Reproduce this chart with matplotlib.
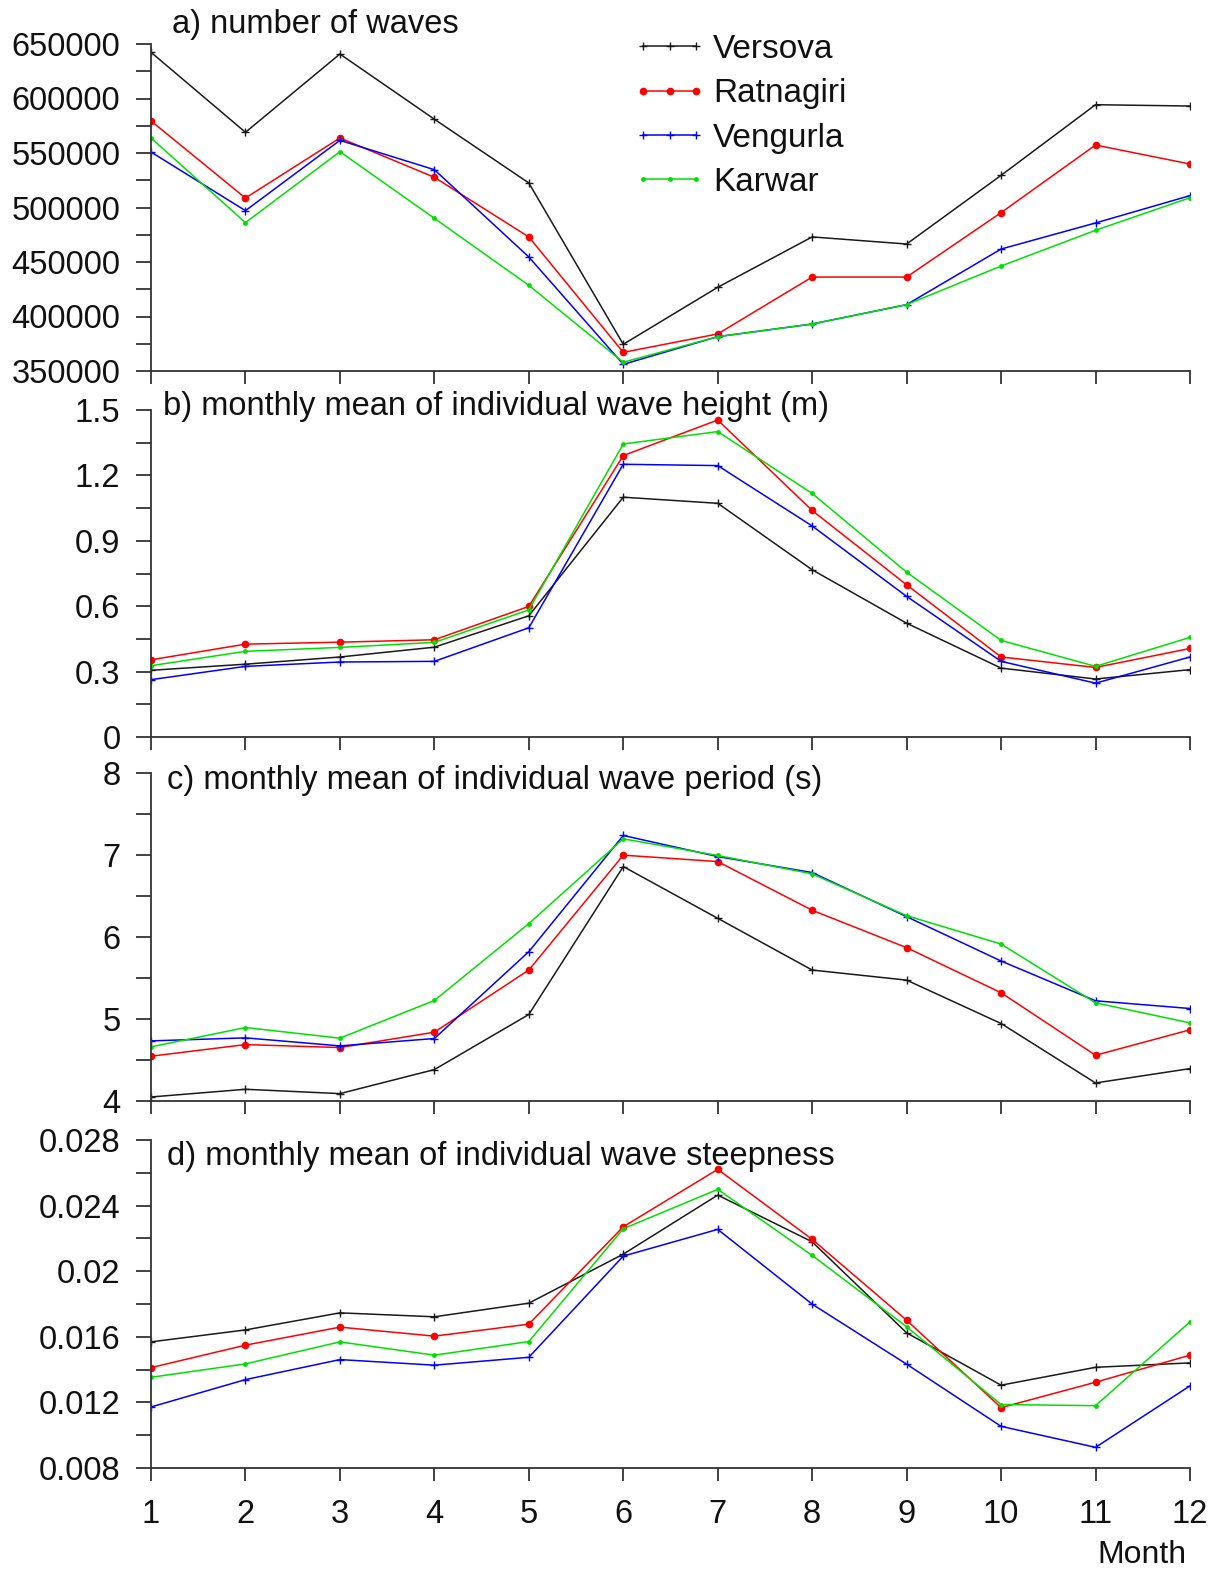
import matplotlib
matplotlib.use("Agg")
import matplotlib.pyplot as plt
from matplotlib.ticker import MultipleLocator

plt.rcParams['font.family'] = ['Liberation Sans', 'DejaVu Sans']

months = list(range(1, 13))
stations = ["Versova", "Ratnagiri", "Vengurla", "Karwar"]

# a) number of waves
waves_versova = [642400, 569000, 640800, 581000, 522500, 374500, 426800, 473000, 466500, 529500, 594300, 593100]
waves_ratnagiri = [579400, 508700, 563800, 527700, 473000, 367100, 384000, 436200, 436200, 495300, 557300, 539900]
waves_vengurla = [550900, 497100, 561600, 534700, 454600, 356100, 381500, 393100, 410900, 461900, 485800, 510900]
waves_karwar = [563800, 486100, 551200, 490100, 428600, 358000, 381500, 393100, 410900, 446300, 479100, 509000]

# b) monthly mean of individual wave height (m)
height_versova = [0.306, 0.334, 0.367, 0.412, 0.556, 1.100, 1.072, 0.767, 0.522, 0.316, 0.266, 0.309]
height_ratnagiri = [0.354, 0.426, 0.435, 0.446, 0.599, 1.291, 1.454, 1.039, 0.698, 0.367, 0.319, 0.406]
height_vengurla = [0.263, 0.324, 0.344, 0.347, 0.501, 1.251, 1.245, 0.968, 0.645, 0.347, 0.247, 0.367]
height_karwar = [0.327, 0.393, 0.411, 0.434, 0.583, 1.344, 1.401, 1.117, 0.756, 0.443, 0.324, 0.457]

# c) monthly mean of individual wave period (s)
period_versova = [4.049, 4.143, 4.090, 4.383, 5.055, 6.859, 6.228, 5.597, 5.474, 4.945, 4.220, 4.395]
period_ratnagiri = [4.546, 4.688, 4.652, 4.839, 5.597, 6.998, 6.920, 6.326, 5.870, 5.320, 4.558, 4.868]
period_vengurla = [4.733, 4.770, 4.672, 4.762, 5.821, 7.238, 6.981, 6.786, 6.248, 5.707, 5.222, 5.128]
period_karwar = [4.660, 4.896, 4.766, 5.226, 6.163, 7.197, 6.994, 6.770, 6.260, 5.914, 5.197, 4.953]

# d) monthly mean of individual wave steepness
steep_versova = [0.01569, 0.01642, 0.01746, 0.01722, 0.01805, 0.02104, 0.02464, 0.02179, 0.01624, 0.01305, 0.01414, 0.01441]
steep_ratnagiri = [0.01412, 0.01549, 0.01659, 0.01604, 0.01677, 0.02271, 0.02621, 0.02194, 0.01701, 0.01168, 0.01323, 0.01488]
steep_vengurla = [0.01172, 0.01339, 0.01461, 0.01427, 0.01475, 0.02092, 0.02255, 0.01799, 0.01433, 0.01054, 0.00926, 0.01301]
steep_karwar = [0.01353, 0.01435, 0.01569, 0.01488, 0.01571, 0.02259, 0.02499, 0.02096, 0.01661, 0.01187, 0.01180, 0.01691]

panel_titles = ["a) number of waves",
                "b) monthly mean of individual wave height (m)",
                "c) monthly mean of individual wave period (s)",
                "d) monthly mean of individual wave steepness"]
ylims = [(350000, 650000), (0, 1.5), (4, 8), (0.008, 0.028)]
ymajor = [50000, 0.3, 1, 0.004]
yticklabels = [["350000", "400000", "450000", "500000", "550000", "600000", "650000"],
               ["0", "0.3", "0.6", "0.9", "1.2", "1.5"],
               ["4", "5", "6", "7", "8"],
               ["0.008", "0.012", "0.016", "0.02", "0.024", "0.028"]]
data = [
    [waves_versova, waves_ratnagiri, waves_vengurla, waves_karwar],
    [height_versova, height_ratnagiri, height_vengurla, height_karwar],
    [period_versova, period_ratnagiri, period_vengurla, period_karwar],
    [steep_versova, steep_ratnagiri, steep_vengurla, steep_karwar],
]

styles = [
    dict(color="#1a1a1a", marker="+", markersize=6, markeredgewidth=1.0),
    dict(color="#ff0000", marker="o", markersize=5.5, markeredgewidth=0),
    dict(color="#0000ff", marker="+", markersize=6, markeredgewidth=1.0),
    dict(color="#00e000", marker="o", markersize=3.5, markeredgewidth=0),
]

W, H = 1221, 1573
fig = plt.figure(figsize=(W / 100, H / 100), dpi=100)

left_px, right_px = 151, 1190
panels_px = [(44, 371), (410, 737), (773, 1101), (1140, 1468)]
title_pos = [(172, 25), (163, 406), (167, 780), (167, 1156)]

spine_col = "#333333"
axes = []
for i, (top, bot) in enumerate(panels_px):
    ax = fig.add_axes([left_px / W, 1 - bot / H, (right_px - left_px) / W, (bot - top) / H])
    axes.append(ax)
    for s, st in zip(data[i], styles):
        ax.plot(months, s, linewidth=1.1, **st)
    ax.set_xlim(1, 12)
    ax.set_ylim(*ylims[i])
    lo, hi = ylims[i]
    n = len(yticklabels[i])
    ticks = [lo + k * ymajor[i] for k in range(n)]
    ax.set_yticks(ticks)
    ax.set_yticklabels(yticklabels[i])
    ax.yaxis.set_minor_locator(MultipleLocator(ymajor[i] / 2))
    ax.set_xticks(months)
    if i < 3:
        ax.set_xticklabels([])
    else:
        ax.set_xticklabels([str(m) for m in months])
    for sp in ["top", "right"]:
        ax.spines[sp].set_visible(False)
    for sp in ["left", "bottom"]:
        ax.spines[sp].set_color(spine_col)
        ax.spines[sp].set_linewidth(1.3)
    ax.tick_params(axis="y", which="both", direction="out", length=11, width=1.3,
                   color=spine_col, labelsize=23.5, pad=11)
    ax.tick_params(axis="x", which="both", direction="out", length=9.5, width=1.3,
                   color=spine_col, labelsize=23.5, pad=13)
    ax.patch.set_alpha(0)
    for lbl in ax.get_yticklabels() + ax.get_xticklabels():
        lbl.set_color("#111111")
    tx, ty = title_pos[i]
    fig.text(tx / W, 1 - ty / H, panel_titles[i], fontsize=23.5, va="center", ha="left", color="#111111")

leg = axes[0].legend(stations, loc="upper left", bbox_to_anchor=(633 / W, 1 - 34 / H),
                     bbox_transform=fig.transFigure, frameon=False, fontsize=24,
                     numpoints=3, handlelength=2.2, handletextpad=0.2, labelspacing=0.4,
                     borderaxespad=0, borderpad=0)
for t in leg.get_texts():
    t.set_color("#111111")

fig.text(1186 / W, 1 - 1563 / H, "Month", fontsize=23, ha="right", va="baseline", color="#111111")

fig.savefig("out.png", dpi=100)
